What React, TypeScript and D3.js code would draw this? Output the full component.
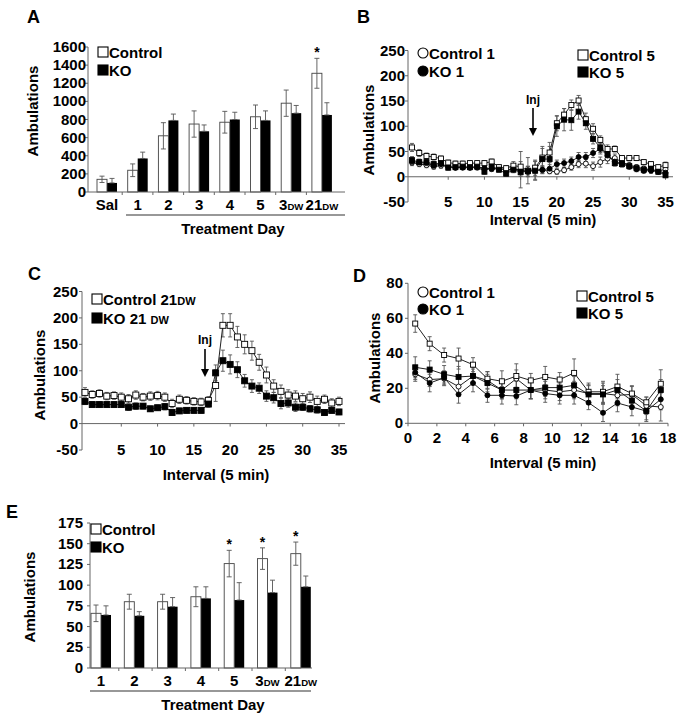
import React from "react";
import * as d3 from "d3";

const FONT = "'Liberation Sans', Arial, Helvetica, sans-serif";

// ---------- Panel A ----------
const aDays = ["Sal", "1", "2", "3", "4", "5", "3DW", "21DW"];
const aControl = [140, 240, 620, 750, 770, 830, 980, 1310];
const aControlErr = [35, 70, 145, 145, 120, 130, 145, 165];
const aKO = [100, 370, 790, 670, 800, 790, 870, 850];
const aKOErr = [50, 70, 70, 70, 80, 105, 85, 135];
const aStars = ["21DW"];
const aYTicks = [0, 200, 400, 600, 800, 1000, 1200, 1400, 1600];

// ---------- Panel B ----------
const bIntervals = d3.range(36);
const bControl1 = [28, 25, 23, 20, 22, 20, 18, 19, 18, 18, 17, 15, 16, 14, 15, 14, 12, 13, 13, 11, 10, 13, 19, 25, 26, 21, 29, 36, 37, 29, 23, 19, 16, 13, 11, 15];
const bControl1Err = [6, 5, 5, 5, 5, 4, 4, 4, 4, 4, 4, 4, 4, 4, 5, 36, 26, 18, 6, 5, 5, 5, 6, 7, 8, 8, 10, 10, 8, 7, 6, 5, 5, 5, 5, 6];
const bKO1 = [30, 28, 27, 22, 25, 20, 18, 18, 18, 19, 17, 16, 18, 12, 15, 12, 10, 13, 14, 16, 25, 27, 31, 39, 39, 47, 55, 42, 30, 27, 20, 15, 12, 12, 10, 8];
const bKO1Err = [6, 5, 5, 5, 5, 4, 4, 4, 4, 4, 5, 5, 4, 5, 5, 8, 10, 20, 8, 8, 8, 8, 8, 9, 9, 9, 10, 10, 8, 6, 5, 5, 5, 5, 5, 5];
const bControl5 = [58, 47, 41, 39, 36, 28, 26, 26, 27, 27, 27, 30, 19, 17, 22, 20, 12, 18, 38, 48, 106, 123, 142, 151, 114, 95, 73, 55, 55, 37, 37, 37, 29, 25, 19, 23];
const bControl5Err = [8, 7, 6, 6, 5, 5, 5, 5, 5, 5, 5, 5, 5, 5, 8, 10, 8, 12, 18, 20, 15, 12, 10, 10, 12, 10, 8, 8, 6, 5, 5, 5, 5, 5, 5, 6];
const bKO5 = [33, 29, 29, 25, 27, 18, 19, 20, 19, 20, 10, 20, 14, 6, 14, 9, 11, 12, 35, 35, 100, 113, 112, 129, 106, 75, 58, 45, 27, 25, 21, 17, 14, 16, 10, 3];
const bKO5Err = [7, 6, 6, 5, 5, 5, 4, 4, 4, 4, 5, 5, 5, 5, 6, 8, 10, 10, 25, 25, 20, 22, 20, 15, 12, 10, 10, 8, 6, 6, 5, 5, 5, 5, 5, 5];
const bXTicks = [5, 10, 15, 20, 25, 30, 35];
const bYTicks = [-50, 0, 50, 100, 150, 200, 250];

// ---------- Panel C ----------
const cIntervals = d3.range(36);
const cControl21 = [59, 55, 57, 52, 53, 50, 47, 54, 50, 52, 53, 50, 38, 46, 44, 42, 41, 44, 72, 186, 186, 164, 150, 138, 116, 92, 71, 61, 54, 52, 47, 50, 42, 46, 39, 42];
const cControl21Err = [9, 7, 7, 7, 7, 8, 8, 8, 7, 8, 8, 8, 8, 8, 7, 7, 7, 7, 30, 22, 22, 20, 18, 18, 15, 15, 12, 12, 10, 10, 10, 10, 10, 8, 8, 8];
const cKO21 = [42, 36, 36, 36, 36, 36, 31, 33, 33, 28, 30, 32, 21, 24, 25, 25, 25, 37, 96, 119, 112, 102, 81, 71, 67, 52, 49, 38, 39, 31, 31, 28, 26, 21, 25, 22];
const cKO21Err = [6, 5, 5, 5, 5, 5, 6, 6, 5, 5, 5, 6, 5, 5, 5, 5, 5, 6, 15, 20, 18, 15, 12, 12, 10, 10, 10, 10, 8, 8, 6, 6, 6, 5, 5, 5];
const cXTicks = [5, 10, 15, 20, 25, 30, 35];
const cYTicks = [-50, 0, 50, 100, 150, 200, 250];

// ---------- Panel D ----------
const dIntervals = [0.5, 1.5, 2.5, 3.5, 4.5, 5.5, 6.5, 7.5, 8.5, 9.5, 10.5, 11.5, 12.5, 13.5, 14.5, 15.5, 16.5, 17.5];
const dControl1 = [28, 25, 25.5, 21, 27, 24.5, 19, 25.5, 19, 19, 18, 19, 17, 17, 16, 16.5, 10, 9.3];
const dControl1Err = [4, 4, 4, 5, 4, 5, 5, 5, 5, 5, 5, 5, 5, 6, 6, 5, 5, 8];
const dKO1 = [29, 23, 26, 16.5, 23, 16, 16, 15.6, 19, 17, 16, 16, 11.8, 6, 11.6, 9.3, 7, 13.7];
const dKO1Err = [4, 5, 4, 5, 5, 4, 5, 5, 5, 5, 5, 5, 4, 5, 5, 5, 6, 6];
const dControl5 = [57, 45.5, 39, 37, 33.5, 25.5, 24, 27, 24.5, 26.5, 25, 28.8, 18, 18, 21, 17, 12, 22.6];
const dControl5Err = [5, 4, 4, 6, 4, 4, 6, 7, 4, 6, 4, 8, 5, 6, 7, 4, 3, 8];
const dKO5 = [32, 30.7, 28, 26.5, 27, 23, 19, 19, 19, 20.4, 20.4, 21.7, 16.5, 16.5, 19, 13, 7, 19];
const dKO5Err = [6, 5, 5, 6, 5, 5, 5, 5, 5, 5, 5, 5, 5, 5, 6, 5, 5, 6];
const dXTicks = [0, 2, 4, 6, 8, 10, 12, 14, 16, 18];
const dYTicks = [0, 20, 40, 60, 80];

// ---------- Panel E ----------
const eDays = ["1", "2", "3", "4", "5", "3DW", "21DW"];
const eControl = [66, 80, 80, 86, 126, 132, 138];
const eControlErr = [10, 9, 9, 12, 16, 13, 14];
const eKO = [64, 63, 74, 84, 82, 91, 98];
const eKOErr = [11, 5, 11, 14, 21, 15, 13];
const eStars = ["5", "3DW", "21DW"];
const eYTicks = [0, 25, 50, 75, 100, 125, 150, 175];

const AX = "#666";
const ERR = "#555";

function T(props: any) {
  const { children, ...rest } = props;
  return (
    <text fontFamily={FONT} fontWeight="bold" fontSize={15} fill="#000" {...rest}>
      {children}
    </text>
  );
}

function DayText({ label, x, y, size = 15 }: any) {
  const m = label.match(/^(\d+)(DW)$/);
  return (
    <T x={x} y={y} textAnchor="middle" fontSize={size}>
      {m ? (
        <>
          {m[1]}
          <tspan fontSize={size * 0.64}>{m[2]}</tspan>
        </>
      ) : (
        label
      )}
    </T>
  );
}

function YAxis({ ys, ticks, x, gap = 4 }: any) {
  const lo = d3.min(ticks) as number;
  const hi = d3.max(ticks) as number;
  return (
    <g>
      <line x1={x} x2={x} y1={ys(lo)} y2={ys(hi)} stroke={AX} strokeWidth={1} />
      {ticks.map((t: number) => (
        <g key={t}>
          <line x1={x - 3} x2={x} y1={ys(t)} y2={ys(t)} stroke={AX} />
          <T x={x - gap} y={ys(t) + 5} textAnchor="end">
            {t}
          </T>
        </g>
      ))}
    </g>
  );
}

function YTitle({ x, y }: any) {
  return (
    <T x={x} y={y} textAnchor="middle" dominantBaseline="central" transform={`rotate(-90 ${x} ${y})`}>
      Ambulations
    </T>
  );
}

function ErrBar({ x, y1, y2, cap = 4 }: any) {
  return (
    <g stroke={ERR} strokeWidth={0.9}>
      <line x1={x} x2={x} y1={y1} y2={y2} />
      <line x1={x - cap / 2} x2={x + cap / 2} y1={y1} y2={y1} />
      <line x1={x - cap / 2} x2={x + cap / 2} y1={y2} y2={y2} />
    </g>
  );
}

function Marker({ x, y, shape, filled, size }: any) {
  if (shape === "square")
    return (
      <rect x={x - size / 2} y={y - size / 2} width={size} height={size} fill={filled ? "#000" : "#fff"} stroke="#000" strokeWidth={0.9} />
    );
  return <circle cx={x} cy={y} r={size / 2} fill={filled ? "#000" : "#fff"} stroke="#000" strokeWidth={0.9} />;
}

function LinePlot({ xs, ys, xVals, series, size }: any) {
  const line = d3
    .line<number>()
    .x((_d, i) => xs(xVals[i]))
    .y((d) => ys(d));
  return (
    <g>
      {series.map((s: any, si: number) => (
        <g key={"e" + si}>
          {s.vals.map((v: number, i: number) => (
            <ErrBar key={i} x={xs(xVals[i])} y1={ys(v + s.errs[i])} y2={ys(v - s.errs[i])} cap={4} />
          ))}
        </g>
      ))}
      {series.map((s: any, si: number) => (
        <path key={"l" + si} d={line(s.vals) || ""} fill="none" stroke="#222" strokeWidth={1} />
      ))}
      {series.map((s: any, si: number) => (
        <g key={"m" + si}>
          {s.vals.map((v: number, i: number) => (
            <Marker key={i} x={xs(xVals[i])} y={ys(v)} shape={s.shape} filled={s.filled} size={size} />
          ))}
        </g>
      ))}
    </g>
  );
}

function LegendItem({ x, y, shape, filled, label, suffix }: any) {
  return (
    <g>
      {shape === "square" ? (
        <rect x={x} y={y - 5} width={10} height={10} fill={filled ? "#000" : "#fff"} stroke="#000" strokeWidth={1.1} />
      ) : (
        <circle cx={x + 5} cy={y} r={5} fill={filled ? "#000" : "#fff"} stroke="#000" strokeWidth={1.1} />
      )}
      <T x={x + 11} y={y + 5.5}>
        {label}
        {suffix ? <tspan fontSize={11}>{suffix}</tspan> : null}
      </T>
    </g>
  );
}

function BarPanel({ days, ctrl, ctrlErr, ko, koErr, stars, ys, xs, axisX, axisEnd, barW }: any) {
  const y0 = ys(0);
  return (
    <g>
      {days.map((d: string, i: number) => {
        const bx = xs(d);
        return (
          <g key={d}>
            <rect x={bx + barW} y={ys(ko[i])} width={barW} height={y0 - ys(ko[i])} fill="#000" />
            <ErrBar x={bx + barW * 1.5} y1={ys(ko[i] + koErr[i])} y2={ys(ko[i])} cap={5} />
            <rect x={bx} y={ys(ctrl[i])} width={barW} height={y0 - ys(ctrl[i])} fill="#fff" stroke="#444" strokeWidth={0.9} />
            <ErrBar x={bx + barW / 2} y1={ys(ctrl[i] + ctrlErr[i])} y2={ys(ctrl[i] - ctrlErr[i])} cap={5} />
            {stars.includes(d) ? (
              <T x={bx + barW / 2} y={ys(ctrl[i] + ctrlErr[i]) - 1} textAnchor="middle" fontSize={14}>
                *
              </T>
            ) : null}
            {i > 0 ? <line x1={bx - 5.5} x2={bx - 5.5} y1={y0} y2={y0 + 3} stroke={AX} /> : null}
          </g>
        );
      })}
      <line x1={axisX} x2={axisEnd} y1={y0} y2={y0} stroke={AX} />
    </g>
  );
}

function Arrow({ x, yText, y1, y2 }: any) {
  return (
    <g>
      <T x={x} y={yText + 4} textAnchor="middle" fontSize={12}>
        Inj
      </T>
      <line x1={x} x2={x} y1={y1} y2={y2 - 6} stroke="#000" strokeWidth={1.6} />
      <path d={`M${x - 4},${y2 - 8} L${x + 4},${y2 - 8} L${x},${y2} Z`} fill="#000" />
    </g>
  );
}

export default function App() {
  // Panel A scales
  const aY = d3.scaleLinear().domain([0, 1600]).range([192, 47]);
  const aX = d3.scaleBand<string>().domain(aDays).range([97, 97 + 8 * 30.7]);
  // Panel B
  const bY = d3.scaleLinear().domain([-50, 250]).range([202, 50.5]);
  const bX = d3.scaleLinear().domain([0, 35]).range([412, 665.5]);
  // Panel C
  const cY = d3.scaleLinear().domain([-50, 250]).range([450, 291.5]);
  const cX = d3.scaleLinear().domain([0, 35]).range([85, 339]);
  // Panel D
  const dY = d3.scaleLinear().domain([0, 80]).range([423.3, 283.3]);
  const dX = d3.scaleLinear().domain([0, 18]).range([408, 668]);
  // Panel E
  const eY = d3.scaleLinear().domain([0, 175]).range([668, 523]);
  const eX = d3.scaleBand<string>().domain(eDays).range([91, 91 + 7 * 33.3]);

  const bSeries = [
    { vals: bControl1, errs: bControl1Err, shape: "circle", filled: false },
    { vals: bKO1, errs: bKO1Err, shape: "circle", filled: true },
    { vals: bControl5, errs: bControl5Err, shape: "square", filled: false },
    { vals: bKO5, errs: bKO5Err, shape: "square", filled: true },
  ];
  const cSeries = [
    { vals: cControl21, errs: cControl21Err, shape: "square", filled: false },
    { vals: cKO21, errs: cKO21Err, shape: "square", filled: true },
  ];
  const dSeries = [
    { vals: dControl1, errs: dControl1Err, shape: "circle", filled: false },
    { vals: dKO1, errs: dKO1Err, shape: "circle", filled: true },
    { vals: dControl5, errs: dControl5Err, shape: "square", filled: false },
    { vals: dKO5, errs: dKO5Err, shape: "square", filled: true },
  ];

  return (
    <svg width={683} height={721} style={{ position: "absolute", left: 0, top: 0, background: "#fff" }}>
      <rect width={683} height={721} fill="#fff" />

      {/* ---------- A ---------- */}
      <T x={27} y={23} fontSize={18}>A</T>
      <YTitle x={32} y={111} />
      <YAxis ys={aY} ticks={aYTicks} x={88} gap={2} />
      <BarPanel days={aDays} ctrl={aControl} ctrlErr={aControlErr} ko={aKO} koErr={aKOErr} stars={aStars} ys={aY} xs={aX} axisX={88} axisEnd={345} barW={10} />
      {aDays.map((d) => (
        <DayText key={d} label={d} x={(aX(d) as number) + 10} y={210} />
      ))}
      <line x1={126} x2={345} y1={215} y2={215} stroke="#333" strokeWidth={1.2} />
      <T x={233} y={234} textAnchor="middle">Treatment Day</T>
      <LegendItem x={98} y={52} shape="square" filled={false} label="Control" />
      <LegendItem x={98} y={70} shape="square" filled={true} label="KO" />

      {/* ---------- B ---------- */}
      <T x={357} y={23} fontSize={18}>B</T>
      <YTitle x={368} y={130} />
      <YAxis ys={bY} ticks={bYTicks} x={408} gap={3} />
      <line x1={408} x2={673} y1={bY(0)} y2={bY(0)} stroke={AX} />
      {bXTicks.map((t) => (
        <g key={t}>
          <line x1={bX(t)} x2={bX(t)} y1={bY(0)} y2={bY(0) + 3} stroke={AX} />
          <T x={bX(t)} y={207} textAnchor="middle">{t}</T>
        </g>
      ))}
      <T x={543} y={225} textAnchor="middle">Interval (5 min)</T>
      <LinePlot xs={bX} ys={bY} xVals={bIntervals} series={bSeries} size={5} />
      <Arrow x={533} yText={100} y1={108} y2={136} />
      <LegendItem x={418} y={53} shape="circle" filled={false} label="Control 1" />
      <LegendItem x={418} y={71} shape="circle" filled={true} label="KO 1" />
      <LegendItem x={578} y={55} shape="square" filled={false} label="Control 5" />
      <LegendItem x={578} y={72} shape="square" filled={true} label="KO 5" />

      {/* ---------- C ---------- */}
      <T x={28} y={280} fontSize={18}>C</T>
      <YTitle x={39} y={375} />
      <YAxis ys={cY} ticks={cYTicks} x={82} gap={4} />
      <line x1={82} x2={345} y1={cY(0)} y2={cY(0)} stroke={AX} />
      {cXTicks.map((t) => (
        <g key={t}>
          <line x1={cX(t)} x2={cX(t)} y1={cY(0)} y2={cY(0) + 3} stroke={AX} />
          <T x={cX(t)} y={455} textAnchor="middle">{t}</T>
        </g>
      ))}
      <T x={216} y={480} textAnchor="middle">Interval (5 min)</T>
      <LinePlot xs={cX} ys={cY} xVals={cIntervals} series={cSeries} size={6} />
      <Arrow x={205} yText={340} y1={349} y2={377} />
      <LegendItem x={92} y={299} shape="square" filled={false} label="Control 21" suffix="DW" />
      <LegendItem x={92} y={318} shape="square" filled={true} label="KO 21 " suffix="DW" />

      {/* ---------- D ---------- */}
      <T x={353} y={282} fontSize={18}>D</T>
      <YTitle x={374} y={358} />
      <YAxis ys={dY} ticks={dYTicks} x={408} gap={5} />
      <line x1={408} x2={668} y1={dY(0)} y2={dY(0)} stroke={AX} />
      {dXTicks.map((t) => (
        <g key={t}>
          <line x1={dX(t)} x2={dX(t)} y1={dY(0)} y2={dY(0) + 3} stroke={AX} />
          <T x={dX(t)} y={443} textAnchor="middle">{t}</T>
        </g>
      ))}
      <T x={543} y={468} textAnchor="middle">Interval (5 min)</T>
      <LinePlot xs={dX} ys={dY} xVals={dIntervals} series={dSeries} size={5} />
      <LegendItem x={418} y={292} shape="circle" filled={false} label="Control 1" />
      <LegendItem x={418} y={309} shape="circle" filled={true} label="KO 1" />
      <LegendItem x={577} y={296} shape="square" filled={false} label="Control 5" />
      <LegendItem x={577} y={313} shape="square" filled={true} label="KO 5" />

      {/* ---------- E ---------- */}
      <T x={6} y={518} fontSize={18}>E</T>
      <YTitle x={29} y={597} />
      <YAxis ys={eY} ticks={eYTicks} x={90} gap={7} />
      <BarPanel days={eDays} ctrl={eControl} ctrlErr={eControlErr} ko={eKO} koErr={eKOErr} stars={eStars} ys={eY} xs={eX} axisX={90} axisEnd={312} barW={10} />
      {eDays.map((d) => (
        <DayText key={d} label={d} x={(eX(d) as number) + 10} y={686} />
      ))}
      <line x1={90} x2={311} y1={691} y2={691} stroke="#333" strokeWidth={1.2} />
      <T x={213} y={710} textAnchor="middle">Treatment Day</T>
      <LegendItem x={91} y={529} shape="square" filled={false} label="Control" />
      <LegendItem x={91} y={547} shape="square" filled={true} label="KO" />
    </svg>
  );
}
